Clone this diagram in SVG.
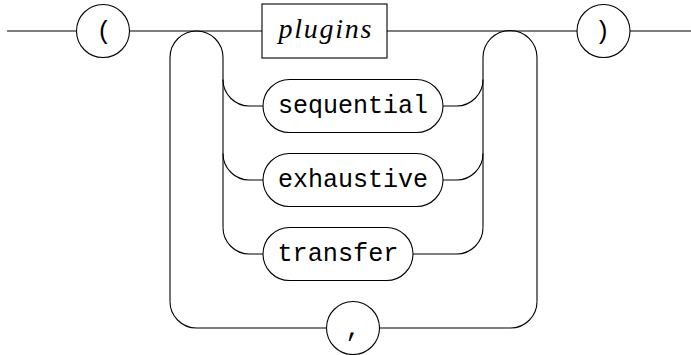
<svg xmlns="http://www.w3.org/2000/svg" width="691" height="355" viewBox="0 0 691 355">
<style>
.ln{fill:none;stroke:#000;stroke-width:1.1}
.nd{fill:#fff;stroke:#000;stroke-width:1.1}
.tt{font-family:"Liberation Mono","DejaVu Sans Mono",monospace;font-size:25px;fill:#000;text-anchor:middle}
.it{font-family:"Liberation Serif","DejaVu Serif",serif;font-style:italic;font-size:28px;fill:#000;text-anchor:middle}
</style>
<g id="connectors" class="ln">
<path d="M7,31 H76.5 M129.5,31 H262 M387,31 H577 M630,31 H691"/>
<path d="M170,301.5 V57.5 A26.5,26.5 0 0 1 223,57.5 V227.5"/>
<path d="M483,227.5 V57.5 A26.5,26.5 0 0 1 537,57.5 V301.5"/>
<path d="M223,79.5 A26.5,26.5 0 0 0 249.5,106 H263"/>
<path d="M223,153.5 A26.5,26.5 0 0 0 249.5,180 H263"/>
<path d="M223,227.5 A26.5,26.5 0 0 0 249.5,254 H263"/>
<path d="M443,106 H456.5 A26.5,26.5 0 0 0 483,79.5"/>
<path d="M443,180 H456.5 A26.5,26.5 0 0 0 483,153.5"/>
<path d="M413,254 H456.5 A26.5,26.5 0 0 0 483,227.5"/>
<path d="M170,301.5 A26.5,26.5 0 0 0 196.5,328 H326.5"/>
<path d="M379.5,328 H510.5 A26.5,26.5 0 0 0 537,301.5"/>
</g>
<g id="lparen"><circle class="nd" cx="103" cy="31" r="26.5"/><text class="tt" x="104" y="39">(</text></g>
<g id="plugins"><rect class="nd" x="262" y="4" width="125" height="54"/><text class="it" x="325" y="37.5" textLength="93" lengthAdjust="spacing">plugins</text></g>
<g id="sequential"><rect class="nd" x="263" y="79.5" width="180" height="53" rx="26.5" ry="26.5"/><text class="tt" x="353" y="112.5" textLength="150" lengthAdjust="spacingAndGlyphs">sequential</text></g>
<g id="exhaustive"><rect class="nd" x="263" y="153.5" width="180" height="53" rx="26.5" ry="26.5"/><text class="tt" x="353" y="186.5" textLength="150" lengthAdjust="spacingAndGlyphs">exhaustive</text></g>
<g id="transfer"><rect class="nd" x="263" y="227.5" width="150" height="53" rx="26.5" ry="26.5"/><text class="tt" x="338" y="260.5" textLength="121" lengthAdjust="spacingAndGlyphs">transfer</text></g>
<g id="comma"><circle class="nd" cx="353" cy="328" r="26.5"/><text class="tt" x="353" y="336">,</text></g>
<g id="rparen"><circle class="nd" cx="603.5" cy="31" r="26.5"/><text class="tt" x="602.5" y="39">)</text></g>
</svg>
